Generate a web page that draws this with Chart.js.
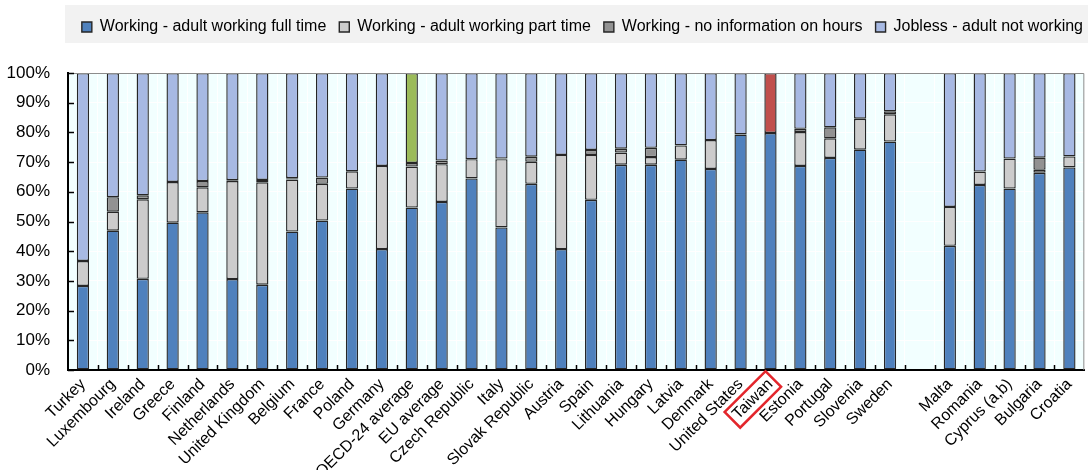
<!DOCTYPE html>
<html>
<head>
<meta charset="utf-8">
<script src="https://cdn.jsdelivr.net/npm/chart.js@4.4.1/dist/chart.umd.min.js"></script>
<style>
  body { margin: 0; background: #fff; }
  #wrap { width: 1088px; height: 470px; }
</style>
</head>
<body>
<div id="wrap"><canvas id="jobChart" width="1088" height="470"></canvas></div>
<script>
// categories (blank slot separates the non-OECD EU countries)
var countries = ['Turkey', 'Luxembourg', 'Ireland', 'Greece', 'Finland', 'Netherlands', 'United Kingdom',
  'Belgium', 'France', 'Poland', 'Germany', 'OECD-24 average', 'EU average', 'Czech Republic', 'Italy',
  'Slovak Republic', 'Austria', 'Spain', 'Lithuania', 'Hungary', 'Latvia', 'Denmark', 'United States',
  'Taiwan', 'Estonia', 'Portugal', 'Slovenia', 'Sweden', '', 'Malta', 'Romania', 'Cyprus (a,b)',
  'Bulgaria', 'Croatia'];

// shares in % (null = no segment)
var fullTime = [28.3, 46.9, 30.7, 49.6, 53.1, 30.6, 28.7, 46.6, 50.3, 61.1, 40.7, 54.7, 56.6, 64.5, 48.0,
  62.7, 40.7, 57.3, 69.1, 69.1, 70.8, 67.7, 79.3, 79.8, 68.7, 71.4, 74.2, 76.9, null, 41.8, 62.3, 61.1, 66.4, 68.2];
var partTime = [8.4, 6.4, 26.8, 13.7, 8.4, 33.0, 34.5, 17.5, 12.4, 5.8, 28.0, 13.8, 12.7, 6.5, 23.0,
  7.4, 31.7, 15.1, 4.1, 2.6, 4.8, 9.7, null, null, 11.4, 6.6, 10.4, 9.2, null, 13.1, 4.5, 10.1, 1.0, 3.7];
var noInfo = [null, 4.9, 1.3, null, 2.1, 0.3, 0.8, 0.5, 2.1, null, null, 1.2, 1.2, null, 0.2,
  1.7, null, 1.7, 1.3, 3.1, null, null, null, null, 1.1, 3.7, null, 1.0, null, null, null, null, 4.1, null];
var jobless = [63.3, 41.8, 41.2, 36.7, 36.4, 36.1, 36.0, 35.4, 35.2, 33.1, 31.3, 30.3, 29.5, 29.0, 28.8,
  28.2, 27.6, 25.9, 25.5, 25.2, 24.4, 22.6, 20.7, 20.2, 18.8, 18.3, 15.4, 12.9, null, 45.1, 33.2, 28.8, 28.5, 28.1];

var yTicks = [0, 10, 20, 30, 40, 50, 60, 70, 80, 90, 100];

// highlighted bars (jobless part recoloured)
var highlight = { 'OECD-24 average': '#9BBB59', 'Taiwan': '#C0504D' };
var boxedLabel = 'Taiwan';

var edge = '#262626';

function joblessColor(ctx) {
  if (ctx.dataIndex === undefined) return '#A7B9E3';
  return highlight[countries[ctx.dataIndex]] || '#A7B9E3';
}

// plot background, frame, inward ticks, boxed label
var plotBack = {
  id: 'plotBack',
  beforeDraw: function(chart) {
    var c = chart.ctx, a = chart.chartArea, lg = chart.legend;
    if (!lg._moved) {
      // nudge legend items to where the original sits
      lg.left += 10; lg.right += 10; lg.top += 6; lg.bottom += 6;
      lg._moved = true;
    }
    c.save();
    c.fillStyle = '#F2F2F2';
    c.fillRect(a.left - 3, 5, chart.width - a.left + 3, 38);
    c.fillStyle = '#F2FFFF';
    c.fillRect(a.left, a.top, a.right - a.left, a.bottom - a.top);
    c.restore();
  },
  afterDatasetsDraw: function(chart) {
    var c = chart.ctx, a = chart.chartArea;
    var x = chart.scales.x, y = chart.scales.y;
    c.save();
    c.strokeStyle = '#8C8C8C';
    c.lineWidth = 1;
    c.beginPath();
    c.moveTo(a.left, a.top + 0.5);
    c.lineTo(a.right - 0.5, a.top + 0.5);
    c.lineTo(a.right - 0.5, a.bottom);
    c.stroke();
    c.strokeStyle = '#000';
    c.lineWidth = 1.5;
    c.beginPath();
    yTicks.forEach(function(v) {
      var py = Math.round(y.getPixelForValue(v)) + 0.5;
      c.moveTo(a.left, py);
      c.lineTo(a.left + 6, py);
    });
    var step = (a.right - a.left) / countries.length;
    for (var i = 1; i < countries.length; i++) {
      var px = Math.round(x.getPixelForValue(i) - step / 2) + 0.5;
      c.moveTo(px, a.bottom);
      c.lineTo(px, a.bottom - 5);
    }
    c.stroke();
    c.restore();
  },
  afterDraw: function(chart) {
    var c = chart.ctx;
    var items = chart.scales.x.getLabelItems();
    items.forEach(function(it) {
      if (it.label !== boxedLabel) return;
      var o = it.options;
      c.save();
      c.font = it.font.string;
      var w = c.measureText(it.label).width;
      var h = it.font.size;
      c.translate(o.translation[0], o.translation[1]);
      c.rotate(o.rotation);
      var off = it.textOffset || 0;
      var top = o.textBaseline === 'middle' ? -h / 2 : (o.textBaseline === 'top' ? 0 : -h);
      c.strokeStyle = '#E3262C';
      c.lineWidth = 2.5;
      c.strokeRect(-w - 4, top + off - 3, w + 8, h + 6);
      c.restore();
    });
  }
};

// push the plot down below the legend
var legendGap = {
  id: 'legendGap',
  beforeInit: function(chart) {
    var fit = chart.legend.fit;
    chart.legend.fit = function() {
      fit.bind(chart.legend)();
      this.height = 73;
    };
  }
};

new Chart(document.getElementById('jobChart'), {
  type: 'bar',
  data: {
    labels: countries,
    datasets: [
      { label: 'Working - adult working full time', data: fullTime, backgroundColor: '#4F81BD' },
      { label: 'Working - adult working part time', data: partTime, backgroundColor: '#CCCCCC' },
      { label: 'Working - no information on hours', data: noInfo, backgroundColor: '#929292' },
      { label: 'Jobless - adult not working', data: jobless, backgroundColor: joblessColor }
    ]
  },
  options: {
    responsive: false,
    animation: false,
    layout: { padding: { top: 0, right: 2, left: 0, bottom: 0 } },
    datasets: {
      bar: {
        categoryPercentage: 1,
        barPercentage: 0.41,
        borderColor: edge,
        borderWidth: 1.4,
        borderSkipped: false
      }
    },
    plugins: {
      tooltip: { enabled: false },
      legend: {
        position: 'top',
        align: 'end',
        labels: {
          boxWidth: 10,
          boxHeight: 10,
          padding: 13,
          color: '#000',
          font: { family: '"Liberation Sans", Arial, sans-serif', size: 16 }
        }
      }
    },
    scales: {
      x: {
        stacked: true,
        grid: { color: '#FFFFFF', lineWidth: 1, drawTicks: false },
        border: { color: '#000', width: 2 },
        ticks: {
          autoSkip: false,
          minRotation: 45,
          maxRotation: 45,
          padding: 5,
          color: '#000',
          font: { family: '"Liberation Sans", Arial, sans-serif', size: 16 }
        },
        afterFit: function(s) { s.height = 100; }
      },
      y: {
        stacked: true,
        min: 0,
        max: 100,
        grid: { color: '#FFFFFF', lineWidth: 1, drawTicks: false },
        border: { color: '#000', width: 2 },
        ticks: {
          stepSize: 10,
          padding: 18,
          color: '#000',
          font: { family: '"Liberation Sans", Arial, sans-serif', size: 17 },
          callback: function(v) { return v + '%'; }
        },
        afterFit: function(s) { s.width = 68; }
      }
    }
  },
  plugins: [plotBack, legendGap]
});
</script>
</body>
</html>
